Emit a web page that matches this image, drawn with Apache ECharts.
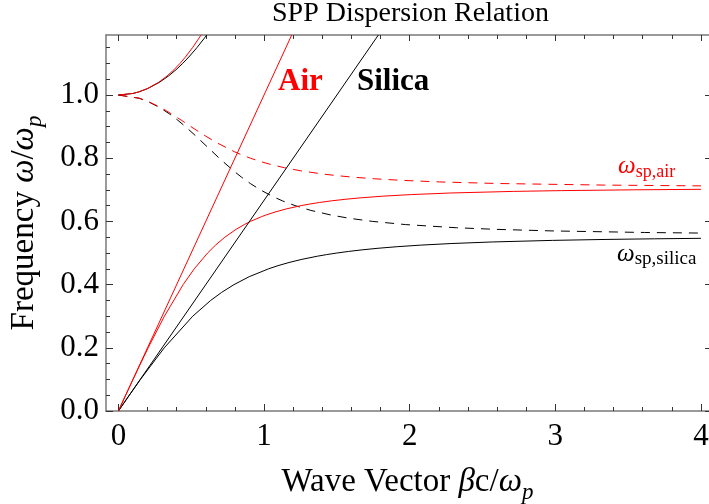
<!DOCTYPE html>
<html>
<head>
<meta charset="utf-8">
<script src="https://cdn.jsdelivr.net/npm/echarts@6/dist/echarts.min.js"></script>
<style>html,body{margin:0;padding:0;background:#fff}#c{width:709px;height:504px}</style>
</head>
<body>
<div id="c"></div>
<script>
// ---- data ----
const chartTitle = 'SPP Dispersion Relation';
const xTickValues = [0, 1, 2, 3, 4];
const xMinorTickValues = [0.2,0.4,0.6,0.8,1.2,1.4,1.6,1.8,2.2,2.4,2.6,2.8,3.2,3.4,3.6,3.8];
const yTickValues = [0, 0.2, 0.4, 0.6, 0.8, 1.0];
const yMinorTickValues = [0.05,0.1,0.15,0.25,0.3,0.35,0.45,0.5,0.55,0.65,0.7,0.75,0.85,0.9,0.95,1.05,1.1,1.15];

// light lines
const airLightBeta = [0, 1.19];
const airLightOmega = [0, 1.19];
const silicaLightBeta = [0, 1.785];
const silicaLightOmega = [0, 1.19];

// lower SPP branches (solid)
const airSppBeta = [0, 0.0501, 0.1005, 0.2043, 0.3160, 0.4446, 0.5210, 0.6124, 0.6670, 0.7309, 0.8083, 0.8643, 0.9071, 0.9826, 1.0117, 1.0774, 1.1565, 1.2547, 1.3137, 1.3816, 1.4611, 1.5559, 1.6717, 1.8181, 2.0116, 2.2843, 2.7121, 3.0425, 3.5349, 4.0];
const airSppOmega = [0, 0.05, 0.1, 0.2, 0.3, 0.4, 0.45, 0.5, 0.525, 0.55, 0.575, 0.59, 0.6, 0.615, 0.62, 0.63, 0.64, 0.65, 0.655, 0.66, 0.665, 0.67, 0.675, 0.68, 0.685, 0.69, 0.695, 0.6975, 0.70, 0.7016];
const silicaSppBeta = [0, 0.0752, 0.1517, 0.3151, 0.5104, 0.6339, 0.7077, 0.7937, 0.8980, 1.0310, 1.0963, 1.1717, 1.2602, 1.3670, 1.4296, 1.5, 1.5803, 1.6732, 1.7824, 1.9138, 2.0761, 2.2846, 2.5668, 2.9808, 3.3477, 3.6815, 4.0];
const silicaSppOmega = [0, 0.05, 0.1, 0.2, 0.3, 0.35, 0.375, 0.4, 0.425, 0.45, 0.46, 0.47, 0.48, 0.49, 0.495, 0.5, 0.505, 0.51, 0.515, 0.52, 0.525, 0.53, 0.535, 0.54, 0.543, 0.545, 0.5465];

// upper branches (solid, above omega_p)
const airUpperBeta = [0, 0.0996, 0.1404, 0.1972, 0.2755, 0.3337, 0.3816, 0.4230, 0.4599, 0.5092, 0.5533, 0.5671];
const airUpperOmega = [1.0, 1.005, 1.01, 1.02, 1.04, 1.06, 1.08, 1.1, 1.12, 1.15, 1.18, 1.19];
const silicaUpperBeta = [0, 0.0999, 0.1412, 0.1993, 0.2810, 0.3433, 0.3956, 0.4415, 0.4831, 0.5394, 0.5905, 0.6067];
const silicaUpperOmega = [1.0, 1.005, 1.01, 1.02, 1.04, 1.06, 1.08, 1.1, 1.12, 1.15, 1.18, 1.19];

// quasi-bound branches (dashed)
const airBoundBeta = [0, 0.1425, 0.2032, 0.2927, 0.3306, 0.4332, 0.4982, 0.5642, 0.6712, 0.7993, 0.8501, 0.9071, 0.9722, 1.0483, 1.1398, 1.2538, 1.4031, 1.4981, 1.6131, 1.7571, 1.9450, 2.2057, 2.6047, 3.3362, 3.8642, 4.0];
const airBoundOmega = [1.0, 0.99, 0.98, 0.96, 0.95, 0.92, 0.9, 0.88, 0.85, 0.82, 0.81, 0.8, 0.79, 0.78, 0.77, 0.76, 0.75, 0.745, 0.74, 0.735, 0.73, 0.725, 0.72, 0.715, 0.713, 0.7125];
const silicaBoundBeta = [0, 0.1417, 0.2009, 0.2854, 0.3516, 0.4087, 0.4606, 0.5325, 0.6012, 0.6928, 0.7911, 0.8455, 0.9057, 0.9742, 1.0547, 1.1266, 1.2130, 1.3205, 1.4614, 1.5848, 1.7463, 1.9718, 2.3202, 2.5848, 2.9706, 3.6119, 4.0];
const silicaBoundOmega = [1.0, 0.99, 0.98, 0.96, 0.94, 0.92, 0.9, 0.87, 0.84, 0.8, 0.76, 0.74, 0.72, 0.7, 0.68, 0.665, 0.65, 0.635, 0.62, 0.61, 0.6, 0.59, 0.58, 0.575, 0.57, 0.565, 0.5631];

// ---- chart ----
const zip = (xs, ys) => xs.map((x, i) => [x, ys[i]]);
const RED = '#ff0000', BLACK = '#000000', FRAME = '#7a7a7a', TICK = '#333333';
const SERIF = '"Liberation Serif", "Times New Roman", serif';
const XMIN = -0.085, XMAX = 4.055, YMIN = 0, YMAX = 1.19;

function xAx(pos, ticks, len, showLine, labels) {
  return {
    type: 'value', position: pos, min: XMIN, max: XMAX,
    axisLine: { show: showLine, onZero: false, lineStyle: { color: FRAME, width: 1.5 } },
    axisTick: { show: true, inside: true, length: len, customValues: ticks, lineStyle: { color: TICK, width: 1 } },
    axisLabel: labels ? { show: true, customValues: ticks, margin: 10, color: '#000', fontFamily: SERIF, fontSize: 31,
      formatter: v => String(Math.round(v)) } : { show: false },
    splitLine: { show: false }
  };
}
function yAx(pos, ticks, len, showLine, labels) {
  return {
    type: 'value', position: pos, min: YMIN, max: YMAX,
    axisLine: { show: showLine, onZero: false, lineStyle: { color: FRAME, width: 1.5 } },
    axisTick: { show: true, inside: true, length: len, customValues: ticks, lineStyle: { color: TICK, width: 1 } },
    axisLabel: labels ? { show: true, customValues: ticks, margin: 7, color: '#000', fontFamily: SERIF, fontSize: 31,
      formatter: v => v.toFixed(1) } : { show: false },
    splitLine: { show: false }
  };
}

const nameStyle = {
  color: '#000', fontFamily: SERIF,
  rich: {
    n: { fontFamily: SERIF, fontSize: 33, lineHeight: 44, color: '#000' },
    i: { fontFamily: SERIF, fontSize: 33, lineHeight: 44, fontStyle: 'italic', color: '#000' },
    s: { fontFamily: SERIF, fontSize: 23, lineHeight: 23, fontStyle: 'italic', verticalAlign: 'bottom', color: '#000' }
  }
};

const xAxes = [
  xAx('bottom', xTickValues, 7, true, true),
  xAx('bottom', xMinorTickValues, 4, false, false),
  xAx('top', xTickValues, 6, true, false),
  xAx('top', xMinorTickValues, 4, false, false)
];
xAxes[0].name = '{n|Wave Vector }{i|β}{n|c/}{i|ω}{s|p}';
xAxes[0].nameLocation = 'middle';
xAxes[0].nameGap = 49;
xAxes[0].nameTextStyle = nameStyle;

const yAxes = [
  yAx('left', yTickValues, 7, true, true),
  yAx('left', yMinorTickValues, 4, false, false),
  yAx('right', yTickValues, 4, false, false)
];
yAxes[0].name = '{n|Frequency }{i|ω}{n|/}{i|ω}{s|p}';
yAxes[0].nameLocation = 'middle';
yAxes[0].nameRotate = 90;
yAxes[0].nameGap = 60;
yAxes[0].nameTextStyle = nameStyle;

function line(xs, ys, color, dashed) {
  return {
    type: 'line', xAxisIndex: 0, yAxisIndex: 0, data: zip(xs, ys),
    showSymbol: false, symbol: 'none', smooth: false, silent: true,
    lineStyle: { color: color, width: 1, type: dashed ? [9, 7] : 'solid' },
    clip: true, animation: false
  };
}

const chart = echarts.init(document.getElementById('c'), null, { renderer: 'canvas' });
chart.setOption({
  animation: false,
  backgroundColor: '#fff',
  title: {
    text: chartTitle, left: 272, top: 0, padding: 0,
    textStyle: { fontFamily: SERIF, fontSize: 28, fontWeight: 'normal', color: '#000' }
  },
  grid: { left: 106, right: 0, top: 35, bottom: 93, containLabel: false, outerBoundsMode: 'none' },
  xAxis: xAxes,
  yAxis: yAxes,
  series: [
    line(silicaBoundBeta, silicaBoundOmega, BLACK, true),
    line(airBoundBeta, airBoundOmega, RED, true),
    line(silicaSppBeta, silicaSppOmega, BLACK, false),
    line(airSppBeta, airSppOmega, RED, false),
    line(silicaLightBeta, silicaLightOmega, BLACK, false),
    line(airLightBeta, airLightOmega, RED, false),
    line(silicaUpperBeta, silicaUpperOmega, BLACK, false),
    line(airUpperBeta, airUpperOmega, RED, false)
  ],
  graphic: [
    { type: 'text', x: 278, y: 82, style: { text: 'Air', font: 'bold 31px ' + SERIF, fill: RED, textVerticalAlign: 'middle' } },
    { type: 'text', x: 357, y: 82, style: { text: 'Silica', font: 'bold 31px ' + SERIF, fill: BLACK, textVerticalAlign: 'middle' } },
    { type: 'text', x: 618, y: 166, style: {
        text: '{w|ω}{s|sp,air}', fill: RED, textVerticalAlign: 'middle',
        rich: { w: { fontFamily: SERIF, fontSize: 25, fontStyle: 'italic', lineHeight: 30, fill: RED },
                s: { fontFamily: SERIF, fontSize: 18, lineHeight: 18, verticalAlign: 'bottom', fill: RED } } } },
    { type: 'text', x: 617, y: 254, style: {
        text: '{w|ω}{s|sp,silica}', fill: BLACK, textVerticalAlign: 'middle',
        rich: { w: { fontFamily: SERIF, fontSize: 25, fontStyle: 'italic', lineHeight: 30, fill: BLACK },
                s: { fontFamily: SERIF, fontSize: 19, lineHeight: 19, verticalAlign: 'bottom', fill: BLACK } } } }
  ]
});
</script>
</body>
</html>
